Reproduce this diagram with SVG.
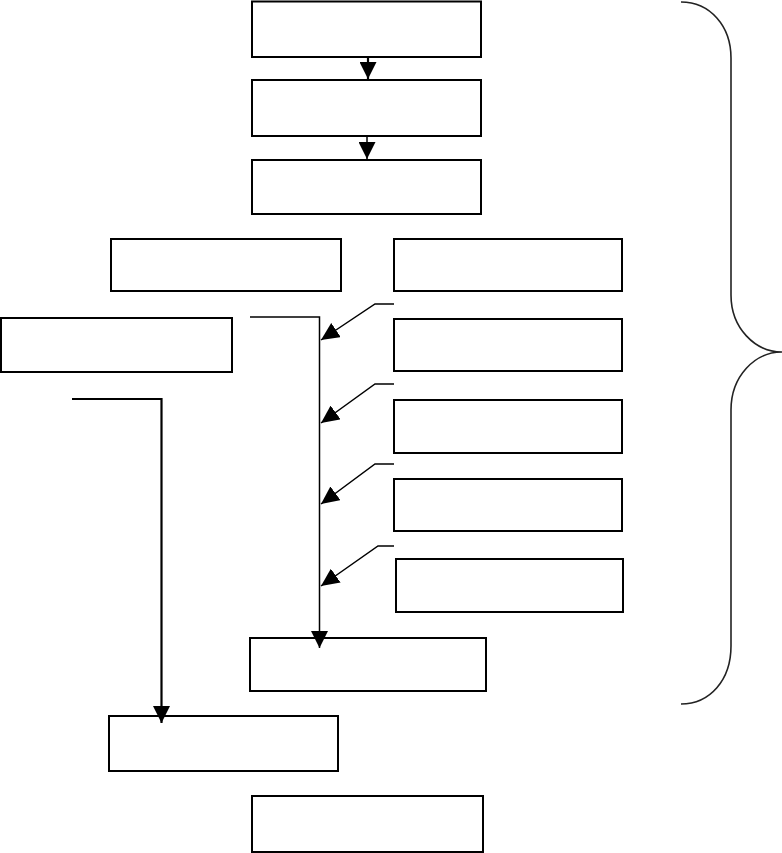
<svg xmlns="http://www.w3.org/2000/svg" width="782" height="853" viewBox="0 0 782 853">
<style>
.box{fill:#fff;stroke:#000;stroke-width:2}
.ln{fill:none;stroke:#000;stroke-width:1.5}
.lnb{fill:none;stroke:#000;stroke-width:2.2}
.brace{fill:none;stroke:#222;stroke-width:1.6}
</style>
<defs>
<marker id="ah" markerUnits="userSpaceOnUse" markerWidth="17" markerHeight="17" refX="17" refY="8.5" orient="auto" viewBox="0 0 17 17">
<path d="M0,0 L17,8.5 L0,17 z" fill="#000"/>
</marker>
<marker id="ahs" markerUnits="userSpaceOnUse" markerWidth="18" markerHeight="17" refX="18" refY="8.5" orient="auto" viewBox="0 0 18 17">
<path d="M0,0 L18,8.5 L0,17 z" fill="#000"/>
</marker>
</defs>
<rect width="782" height="853" fill="#fff"/>
<g id="n1"><rect class="box" x="252" y="1.5" width="229" height="55.5"/></g>
<g id="n2"><rect class="box" x="252" y="80" width="229" height="56"/></g>
<g id="n3"><rect class="box" x="252" y="160" width="229" height="54"/></g>
<g id="n4"><rect class="box" x="111" y="239" width="230" height="52"/></g>
<g id="n5"><rect class="box" x="394" y="239" width="228" height="52"/></g>
<g id="n6"><rect class="box" x="1" y="318" width="231" height="54"/></g>
<g id="n7"><rect class="box" x="394" y="319" width="228" height="52"/></g>
<g id="n8"><rect class="box" x="394" y="400" width="228" height="53"/></g>
<g id="n9"><rect class="box" x="394" y="479" width="228" height="52"/></g>
<g id="n10"><rect class="box" x="396" y="559" width="227" height="53"/></g>
<g id="n11"><rect class="box" x="250" y="638" width="236" height="53"/></g>
<g id="n12"><rect class="box" x="109" y="716" width="229" height="55"/></g>
<g id="n13"><rect class="box" x="252" y="796" width="231" height="56"/></g>
<g id="connectors">
<line class="lnb" x1="368" y1="57" x2="368" y2="79" marker-end="url(#ah)"/>
<line class="ln" x1="367" y1="136" x2="367" y2="159" marker-end="url(#ah)"/>
<polyline class="ln" points="250,317 319.5,317 319.5,648" marker-end="url(#ah)"/>
<polyline class="lnb" points="72,399 161.5,399 161.5,723" marker-end="url(#ah)"/>
<polyline class="ln" points="394,304 375,304 321,340" marker-end="url(#ahs)"/>
<polyline class="ln" points="394,384 375,384 321,423" marker-end="url(#ahs)"/>
<polyline class="ln" points="394,464 375,464 321,504" marker-end="url(#ahs)"/>
<polyline class="ln" points="394,546 378,546 321,586" marker-end="url(#ahs)"/>
</g>
<g id="brace">
<path class="brace" d="M681,2 C710,2 731,26 731,58 L731,295 C731,328 755,352 782,352 C755,352 731,376 731,410 L731,646 C731,680 710,704 681,704"/>
</g>
</svg>
